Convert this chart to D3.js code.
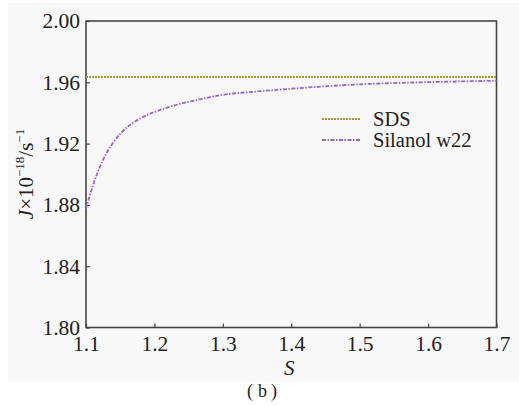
<!DOCTYPE html>
<html>
<head>
<meta charset="utf-8">
<script src="https://cdn.jsdelivr.net/npm/d3@7"></script>
<style>
  html, body { margin: 0; padding: 0; background: #ffffff; }
  svg { display: block; }
</style>
</head>
<body>
<div id="chart"></div>
<script>
// Supersaturation values S and nucleation rates J (×10^-18 s^-1)
const sValues = [1.10, 1.11, 1.12, 1.13, 1.14, 1.15, 1.16, 1.17, 1.18, 1.19, 1.20,
                 1.22, 1.24, 1.26, 1.28, 1.30, 1.35, 1.40, 1.45, 1.50, 1.55, 1.60, 1.65, 1.70];
const silanolJ = [1.8775, 1.8925, 1.9045, 1.9138, 1.9208, 1.9264, 1.9307, 1.9339, 1.9366, 1.9388, 1.9406,
                  1.9437, 1.9462, 1.9482, 1.9502, 1.9518, 1.9540, 1.9558, 1.9574, 1.9587, 1.9595, 1.9601, 1.9606, 1.9610];
const sdsJ = 1.9635;

const xTicks = [1.1, 1.2, 1.3, 1.4, 1.5, 1.6, 1.7];
const yTicks = [1.80, 1.84, 1.88, 1.92, 1.96, 2.00];
const seriesNames = ["SDS", "Silanol w22"];
const seriesColors = ["#a09c3c", "#9466cc"];

const FONT = "'Liberation Serif', Tinos, 'Times New Roman', 'DejaVu Serif', 'Noto Serif', serif";
const W = 519, H = 405;
const margin = { left: 86, top: 21, right: 22.5, bottom: 77.5 };

const svg = d3.select("#chart").append("svg")
  .attr("width", W).attr("height", H);

// light backdrop panel behind the figure
svg.append("rect").attr("x", 8).attr("y", 3).attr("width", W - 8).attr("height", 379)
  .attr("fill", "#f8f8f8");

const x = d3.scaleLinear().domain([1.1, 1.7]).range([margin.left, W - margin.right]);
const y = d3.scaleLinear().domain([1.80, 2.00]).range([H - margin.bottom, margin.top]);

const axisColor = "#444";

// x axis with inward ticks
const xAxis = svg.append("g")
  .attr("transform", `translate(0,${H - margin.bottom})`)
  .call(d3.axisBottom(x).tickValues(xTicks).tickFormat(d3.format(".1f"))
        .tickSizeInner(-4).tickSizeOuter(0).tickPadding(8));
xAxis.select(".domain").remove();
xAxis.selectAll("line").attr("stroke", axisColor).attr("stroke-width", 1.2);
xAxis.selectAll("text").style("font-size", "21.5px").style("fill", "#222")
  .style("font-family", FONT);

// y axis with inward ticks
const yAxis = svg.append("g")
  .attr("transform", `translate(${margin.left},0)`)
  .call(d3.axisLeft(y).tickValues(yTicks).tickFormat(d3.format(".2f"))
        .tickSizeInner(-4).tickSizeOuter(0).tickPadding(6));
yAxis.select(".domain").remove();
yAxis.selectAll("line").attr("stroke", axisColor).attr("stroke-width", 1.2);
yAxis.selectAll("text").style("font-size", "21.5px").style("fill", "#222")
  .style("font-family", FONT);

// frame
svg.append("rect")
  .attr("x", x(1.1)).attr("y", y(2.0))
  .attr("width", x(1.7) - x(1.1)).attr("height", y(1.8) - y(2.0))
  .attr("fill", "none").attr("stroke", axisColor).attr("stroke-width", 1.6);

// SDS: constant rate
svg.append("line")
  .attr("x1", x(1.1)).attr("x2", x(1.7))
  .attr("y1", y(sdsJ)).attr("y2", y(sdsJ))
  .attr("stroke", seriesColors[0]).attr("stroke-width", 2)
  .attr("stroke-dasharray", "2,1");

// Silanol w22 curve
const line = d3.line()
  .x((d, i) => x(sValues[i]))
  .y(d => y(d))
  .curve(d3.curveMonotoneX);
svg.append("path")
  .datum(silanolJ)
  .attr("d", line)
  .attr("fill", "none")
  .attr("stroke", seriesColors[1]).attr("stroke-width", 1.8)
  .attr("stroke-dasharray", "4,1.5,1.5,1.5");

// legend
const legend = svg.append("g");
const legendRows = [119, 140];
seriesNames.forEach((name, i) => {
  legend.append("line")
    .attr("x1", 322).attr("x2", 360)
    .attr("y1", legendRows[i]).attr("y2", legendRows[i])
    .attr("stroke", seriesColors[i]).attr("stroke-width", i === 0 ? 2 : 1.8)
    .attr("stroke-dasharray", i === 0 ? "2,1" : "4,1.5,1.5,1.5");
  legend.append("text")
    .attr("x", 373).attr("y", legendRows[i] + 7)
    .style("font-family", FONT).style("font-size", "20.5px").style("fill", "#222")
    .text(name);
});

// x axis title
svg.append("text")
  .attr("x", x(1.4) - 2).attr("y", 375)
  .attr("text-anchor", "middle")
  .style("font-family", FONT).style("font-size", "21px").style("font-style", "italic")
  .style("fill", "#222")
  .text("S");

// y axis title: J×10^-18/s^-1
const yt = svg.append("text")
  .attr("transform", `translate(33,174) rotate(-90)`)
  .attr("text-anchor", "middle")
  .style("font-family", FONT).style("font-size", "21px").style("fill", "#222");
yt.append("tspan").style("font-style", "italic").text("J");
yt.append("tspan").text("×10");
yt.append("tspan").style("font-size", "13px").attr("dy", -9).text("−18");
yt.append("tspan").attr("dy", 9).text("/s");
yt.append("tspan").style("font-size", "13px").attr("dy", -9).text("−1");

// panel caption
const cap = svg.append("text")
  .attr("x", 262).attr("y", 397)
  .attr("text-anchor", "middle")
  .style("font-family", FONT).style("font-size", "18px").style("fill", "#222");
cap.append("tspan").text("(");
cap.append("tspan").attr("dx", 5).text("b");
cap.append("tspan").attr("dx", 4).text(")");
</script>
</body>
</html>
